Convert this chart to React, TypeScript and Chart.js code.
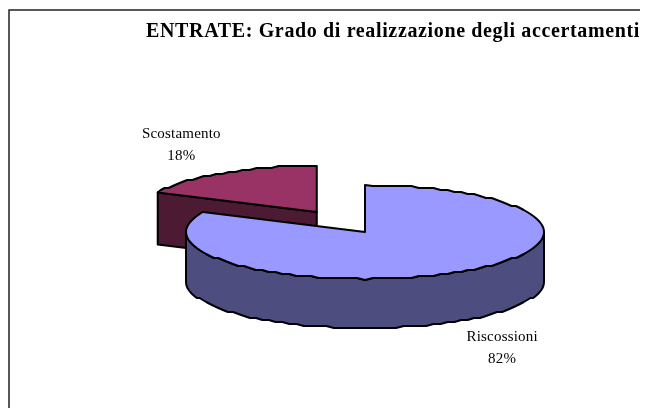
import React, { useEffect, useRef } from "react";
import { Chart, registerables } from "chart.js";

Chart.register(...registerables);

const TITLE = "ENTRATE: Grado di realizzazione degli accertamenti";
const categories = ["Riscossioni", "Scostamento"];
const percentages = [82, 18];
const topColors = ["#9999FF", "#993366"];
const wallColors = ["#4D4D80", "#4D1A33"];
const sliceOffsets = [0, 90];
const sliceScales = [1, 0.982];
const wallDepths = [49, 52];

const FONT = "'Liberation Serif', 'Times New Roman', serif";
const SQUASH = 0.2626;
const EDGE = 2;
const GRID = 2;
const RIM_STEP = Math.PI / 72;

const snap = (v: number) => Math.round(v / GRID) * GRID;

// Rim traced as a coarse polyline, like the low-resolution outline of the original.
// Samples sit on a fixed angle grid, so a wall and a top face share the same outline.
function rim(ctx: any, g: any, from: number, to: number, dy: number) {
  const dir = to >= from ? 1 : -1;
  ctx.lineTo(g.x + g.R * Math.cos(from), g.y + dy + g.r * Math.sin(from));
  let k = dir > 0 ? Math.floor(from / RIM_STEP) + 1 : Math.ceil(from / RIM_STEP) - 1;
  while (dir > 0 ? k * RIM_STEP < to : k * RIM_STEP > to) {
    const a = k * RIM_STEP;
    ctx.lineTo(g.x + g.R * Math.cos(a), snap(g.y + dy + g.r * Math.sin(a)));
    k += dir;
  }
  ctx.lineTo(g.x + g.R * Math.cos(to), g.y + dy + g.r * Math.sin(to));
}

const pie3d = {
  id: "pie3d",
  beforeDraw(chart: any) {
    const { ctx } = chart;
    (ctx as any).letterSpacing = "0.64px";
    ctx.save();
    ctx.strokeStyle = "#222";
    ctx.lineWidth = 1.5;
    ctx.beginPath();
    ctx.moveTo(1, 400);
    ctx.lineTo(1, 2);
    ctx.lineTo(640, 2);
    ctx.stroke();
    ctx.restore();
  },
  beforeDatasetsDraw(chart: any) {
    const { ctx } = chart;
    const arcs = chart.getDatasetMeta(0).data;
    const geo = arcs.map((arc: any, i: number) => {
      const mid = (arc.startAngle + arc.endAngle) / 2;
      const off = arc.options.offset || 0;
      const R = arc.outerRadius * sliceScales[i];
      return {
        i,
        mid,
        a1: arc.startAngle,
        a2: arc.endAngle,
        R,
        r: R * SQUASH,
        x: arc.x + Math.cos(mid) * off,
        y: arc.y + Math.sin(mid) * off * SQUASH,
      };
    });
    ctx.save();
    ctx.lineWidth = EDGE;
    ctx.strokeStyle = "#000";
    ctx.lineJoin = "round";
    // Back slices first, so that the main slice overlaps them.
    [...geo].sort((a: any, b: any) => a.y - b.y).forEach((g: any) => {
      const depth = wallDepths[g.i];
      const px = (a: number) => g.x + g.R * Math.cos(a);
      const py = (a: number) => g.y + g.r * Math.sin(a);
      ctx.fillStyle = wallColors[g.i];
      // Outer wall: the front-facing part of the rim.
      const w1 = Math.max(g.a1, 0);
      const w2 = Math.min(g.a2, Math.PI);
      if (w2 > w1) {
        ctx.beginPath();
        ctx.moveTo(px(w1), py(w1));
        rim(ctx, g, w1, w2, 0);
        rim(ctx, g, w2, w1, depth);
        ctx.closePath();
        ctx.fill();
        ctx.stroke();
      }
      // Cut wall that faces the viewer.
      if (Math.sin(g.a1) < 0 && Math.cos(g.a1) < 0 && g.a2 - g.a1 < Math.PI) {
        ctx.beginPath();
        ctx.moveTo(px(g.a1), py(g.a1));
        ctx.lineTo(g.x, g.y);
        ctx.lineTo(g.x, g.y + depth);
        ctx.lineTo(px(g.a1), py(g.a1) + depth);
        ctx.closePath();
        ctx.fill();
        ctx.stroke();
      }
      // Top face.
      ctx.fillStyle = topColors[g.i];
      ctx.beginPath();
      ctx.moveTo(g.x, g.y);
      rim(ctx, g, g.a1, g.a2, 0);
      ctx.closePath();
      ctx.fill();
      ctx.stroke();
    });
    // Labels
    ctx.fillStyle = "#000";
    ctx.font = `15px ${FONT}`;
    ctx.textAlign = "center";
    ctx.textBaseline = "middle";
    (ctx as any).letterSpacing = "0.2px";
    geo.forEach((g: any) => {
      const lx = g.x + Math.cos(g.mid) * (g.R + 77);
      const front = Math.sin(g.mid) > 0 ? wallDepths[g.i] : 0;
      const ly = g.y + Math.sin(g.mid) * (g.r + 33) + front + 1;
      ctx.fillText(categories[g.i], lx, ly - 12);
      ctx.fillText(`${percentages[g.i]}%`, lx, ly + 10);
    });
    ctx.restore();
    return false;
  },
};

export default function App() {
  const ref = useRef<HTMLCanvasElement | null>(null);
  useEffect(() => {
    const chart = new Chart(ref.current as HTMLCanvasElement, {
      type: "pie",
      data: {
        labels: categories,
        datasets: [
          {
            data: percentages,
            backgroundColor: topColors,
            borderColor: "#000",
            borderWidth: 2,
            offset: sliceOffsets,
            clip: false,
          } as any,
        ],
      },
      options: {
        responsive: false,
        animation: false,
        radius: 179,
        layout: { padding: { left: 82, right: 8, top: 0, bottom: 0 } },
        plugins: {
          legend: { display: false },
          tooltip: { enabled: false },
          title: {
            display: true,
            text: TITLE,
            align: "end",
            color: "#000",
            font: { family: FONT, size: 20, weight: "bold", lineHeight: 1.2 },
            padding: { top: 12, bottom: 12 },
          },
        },
      } as any,
      plugins: [pie3d],
    });
    return () => chart.destroy();
  }, []);
  return <canvas ref={ref} width={640} height={400} style={{ display: "block" }} />;
}
